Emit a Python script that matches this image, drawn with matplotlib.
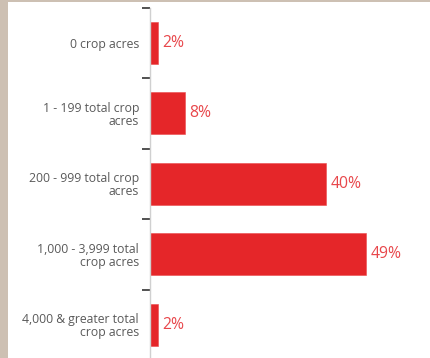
import matplotlib
matplotlib.use("Agg")
import matplotlib.pyplot as plt
from matplotlib.patches import Rectangle

categories = [
    "0 crop acres",
    "1 - 199 total crop\nacres",
    "200 - 999 total crop\nacres",
    "1,000 - 3,999 total\ncrop acres",
    "4,000 & greater total\ncrop acres",
]
values = [2, 8, 40, 49, 2]
value_labels = ["2%", "8%", "40%", "49%", "2%"]

W, H = 430, 358
fig = plt.figure(figsize=(W / 100, H / 100), dpi=100)
fig.patch.set_facecolor("#cdc0b3")
# white card over the textured backdrop
fig.patches.append(Rectangle((8 / W, 0), 1 - 8 / W, 1 - 2 / H,
                             transform=fig.transFigure, facecolor="white",
                             edgecolor="none", zorder=0))

left_px, top_px, bottom_px = 149.5, 7.5, 360
ax = fig.add_axes([left_px / W, (H - bottom_px) / H,
                   268 / W, (bottom_px - top_px) / H])
ax.set_zorder(2)
ax.set_facecolor("none")

n = len(categories)
pos = list(range(n))
ax.barh(pos, values, height=0.6, color="#e52629", edgecolor="#ea4a4c",
        linewidth=0.4)
for p, v, t in zip(pos, values, value_labels):
    ax.text(v + 0.9, p, t, va="center", ha="left", color="#e8474b",
            fontsize=11.3, family="Open Sans")

ax.set_xlim(0, 60.6)
ax.set_ylim(n - 0.5, -0.5)
ax.set_xticks([])

# boundaries carry the tick marks, centres carry the labels
ax.set_yticks([i - 0.5 for i in range(n + 1)])
ax.set_yticklabels([])
ax.tick_params(axis="y", which="major", length=6, width=1.2, color="#333333")
ax.set_yticks(pos, minor=True)
ax.set_yticklabels(categories, minor=True, color="#5a5a5a", fontsize=8.8,
                   family="Open Sans", linespacing=1.0)
ax.tick_params(axis="y", which="minor", length=0, pad=7.5)

for s in ["top", "right", "bottom"]:
    ax.spines[s].set_visible(False)
ax.spines["left"].set_color("#d0d0d0")
ax.spines["left"].set_linewidth(1.0)

fig.savefig("out.png", dpi=100)
